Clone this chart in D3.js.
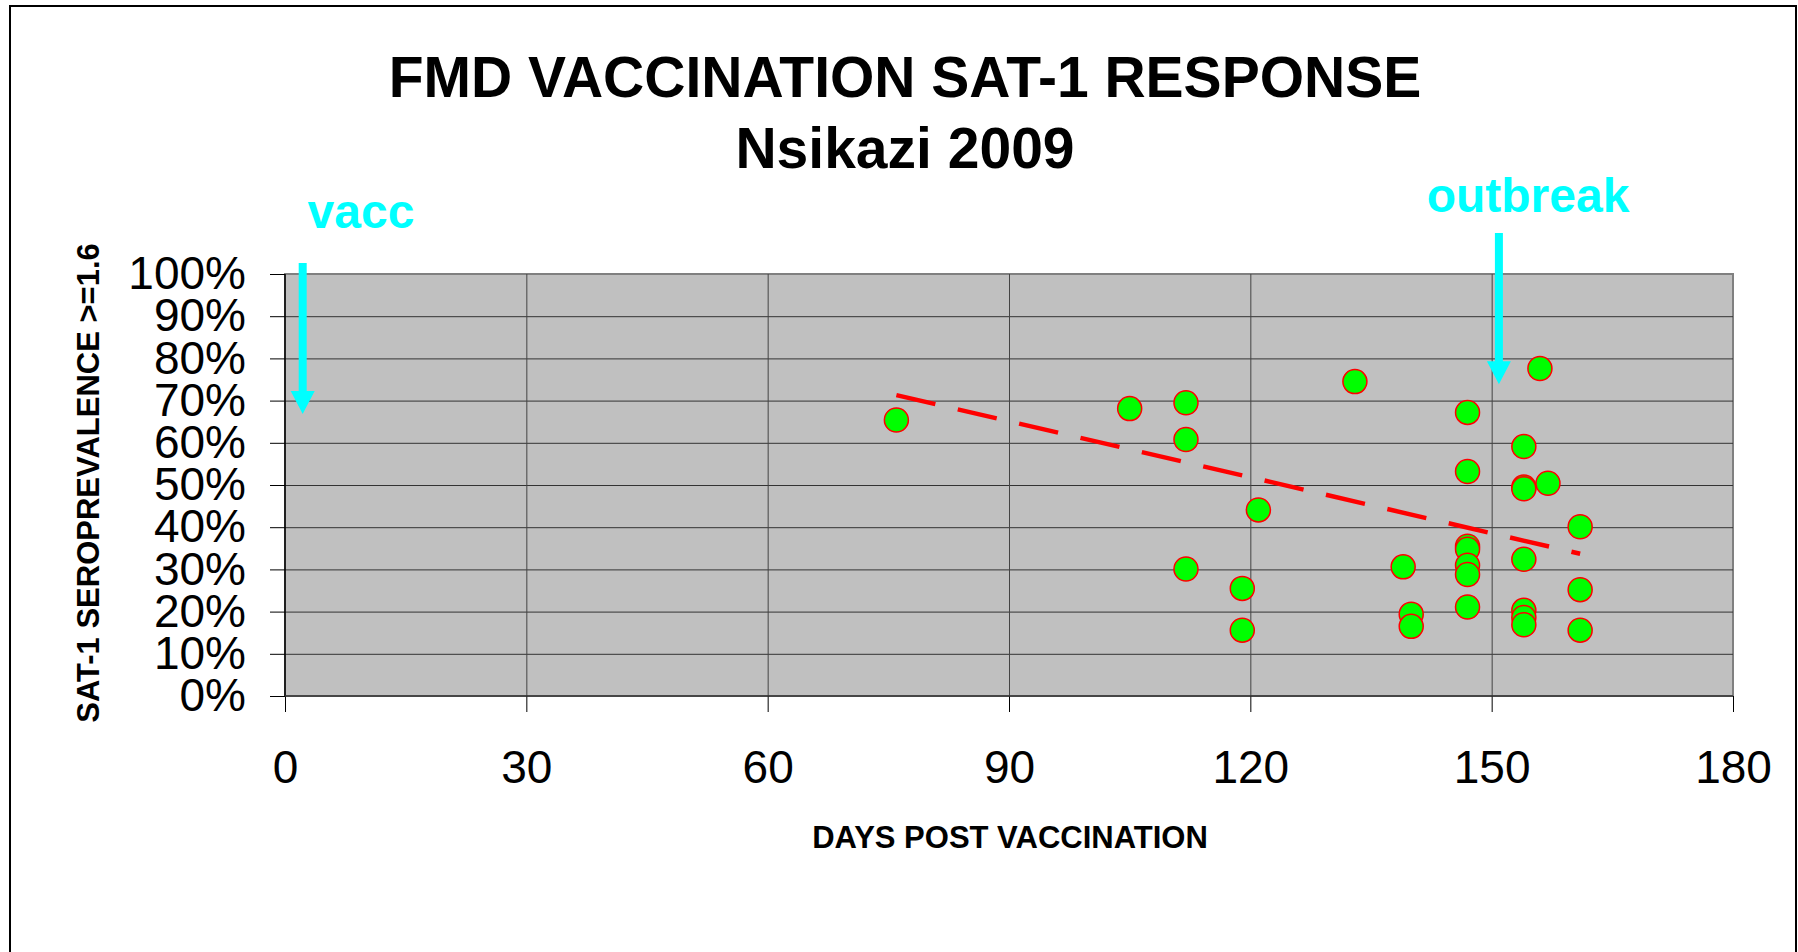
<!DOCTYPE html>
<html>
<head>
<meta charset="utf-8">
<script src="https://cdn.jsdelivr.net/npm/d3@7"></script>
<style>
  body { margin: 0; background: #fff; }
  svg { display: block; font-family: "Liberation Sans", Arial, sans-serif; }
</style>
</head>
<body>
<svg width="1798" height="952"></svg>
<script>
// days post vaccination / seroprevalence
const days = [76, 105, 112, 112, 112, 119, 119, 121, 133, 139, 140, 140,
  147, 147, 147, 147, 147, 147, 147,
  154, 154, 154, 154, 154, 154, 154,
  156, 157, 161, 161, 161];
const prevalence = [0.654, 0.681, 0.695, 0.608, 0.301, 0.255, 0.156, 0.441, 0.745, 0.306, 0.194, 0.165,
  0.672, 0.532, 0.355, 0.348, 0.310, 0.288, 0.211,
  0.591, 0.495, 0.491, 0.324, 0.203, 0.186, 0.169,
  0.776, 0.504, 0.401, 0.252, 0.156];

// trendline end points as drawn
const trendDays = [76, 161];
const trendValues = [0.713, 0.337];

const xTicks = [0, 30, 60, 90, 120, 150, 180];
const yTicks = [0, 0.1, 0.2, 0.3, 0.4, 0.5, 0.6, 0.7, 0.8, 0.9, 1];

// annotation arrows
const arrowLabels = ['vacc', 'outbreak'];
const arrowDays = [2.2, 150.9];
const arrowTops = [1.026, 1.097];
const arrowTips = [0.668, 0.739];

const svg = d3.select('svg');
const plot = { left: 285, right: 1733, top: 274, bottom: 696 };

const x = d3.scaleLinear().domain([0, 180]).range([plot.left, plot.right]);
const y = d3.scaleLinear().domain([0, 1]).range([plot.bottom, plot.top]);

// outer frame
svg.append('rect')
  .attr('x', 10).attr('y', 6)
  .attr('width', 1786).attr('height', 1000)
  .attr('fill', 'none')
  .attr('stroke', '#000')
  .attr('stroke-width', 2);

// titles
svg.append('text')
  .attr('x', 905).attr('y', 97)
  .attr('text-anchor', 'middle')
  .style('font-size', '57px').style('font-weight', 'bold')
  .text('FMD VACCINATION SAT-1 RESPONSE');
svg.append('text')
  .attr('x', 905).attr('y', 168)
  .attr('text-anchor', 'middle')
  .style('font-size', '57px').style('font-weight', 'bold')
  .text('Nsikazi 2009');

// plot background
svg.append('rect')
  .attr('x', plot.left).attr('y', plot.top)
  .attr('width', plot.right - plot.left)
  .attr('height', plot.bottom - plot.top)
  .attr('fill', '#c0c0c0')
  .attr('stroke', '#808080')
  .attr('stroke-width', 2);

// grid
svg.append('g')
  .attr('transform', `translate(${plot.left},0)`)
  .call(d3.axisLeft(y).tickValues(yTicks.slice(1, -1))
    .tickSize(-(plot.right - plot.left)).tickFormat(''))
  .call(g => g.select('.domain').remove())
  .call(g => g.selectAll('line').attr('stroke', '#333'));

svg.append('g')
  .attr('transform', `translate(0,${plot.bottom})`)
  .call(d3.axisBottom(x).tickValues(xTicks.slice(1, -1))
    .tickSize(-(plot.bottom - plot.top)).tickFormat(''))
  .call(g => g.select('.domain').remove())
  .call(g => g.selectAll('line').attr('stroke', '#444'));

// axes
const yAxis = svg.append('g')
  .attr('transform', `translate(${plot.left},0)`)
  .call(d3.axisLeft(y).tickValues(yTicks)
    .tickFormat(d3.format('.0%')).tickSize(15).tickPadding(24));
yAxis.select('.domain').remove();
yAxis.selectAll('line').attr('stroke', '#000');
yAxis.selectAll('text')
  .style('font-size', '46px')
  .attr('fill', '#000');

const xAxis = svg.append('g')
  .attr('transform', `translate(0,${plot.bottom})`)
  .call(d3.axisBottom(x).tickValues(xTicks).tickSize(16).tickPadding(38));
xAxis.select('.domain').remove();
xAxis.selectAll('line').attr('stroke', '#000');
xAxis.selectAll('text')
  .style('font-size', '46px')
  .attr('fill', '#000');

svg.append('line')
  .attr('x1', plot.left).attr('x2', plot.left)
  .attr('y1', plot.top).attr('y2', plot.bottom)
  .attr('stroke', '#000').attr('stroke-width', 1.5);
svg.append('line')
  .attr('x1', plot.left).attr('x2', plot.right)
  .attr('y1', plot.bottom).attr('y2', plot.bottom)
  .attr('stroke', '#333').attr('stroke-width', 1.5);

// axis titles
svg.append('text')
  .attr('x', 1010).attr('y', 848)
  .attr('text-anchor', 'middle')
  .style('font-size', '31px').style('font-weight', 'bold')
  .text('DAYS POST VACCINATION');
svg.append('text')
  .attr('transform', 'translate(99,483) rotate(-90)')
  .attr('text-anchor', 'middle')
  .style('font-size', '31px').style('font-weight', 'bold')
  .text('SAT-1 SEROPREVALENCE >=1.6');

// points
const points = days.map((d, i) => ({ day: d, value: prevalence[i] }));
svg.append('g')
  .selectAll('circle')
  .data(points)
  .enter()
  .append('circle')
  .attr('cx', d => x(d.day))
  .attr('cy', d => y(d.value))
  .attr('r', 12)
  .attr('fill', '#00ff00')
  .attr('stroke', '#ff0000')
  .attr('stroke-width', 1.5);

// trendline
const trend = trendDays.map((d, i) => [d, trendValues[i]]);
svg.append('path')
  .datum(trend)
  .attr('d', d3.line().x(d => x(d[0])).y(d => y(d[1])))
  .attr('fill', 'none')
  .attr('stroke', '#ff0000')
  .attr('stroke-width', 4.5)
  .attr('stroke-dasharray', '40,23');

// arrows + labels
const labelX = [361, 1528];
const labelY = [228, 212];
arrowLabels.forEach((label, i) => {
  const ax = x(arrowDays[i]);
  const top = y(arrowTops[i]);
  const tip = y(arrowTips[i]);
  const head = 23;
  svg.append('path')
    .attr('d', `M${ax - 4},${top} L${ax + 4},${top} L${ax + 4},${tip - head} L${ax + 12},${tip - head}
      L${ax},${tip} L${ax - 12},${tip - head} L${ax - 4},${tip - head} Z`)
    .attr('fill', '#00ffff');
  svg.append('text')
    .attr('x', labelX[i]).attr('y', labelY[i])
    .attr('text-anchor', 'middle')
    .attr('fill', '#00ffff')
    .style('font-size', '48px').style('font-weight', 'bold')
    .text(label);
});
</script>
</body>
</html>
